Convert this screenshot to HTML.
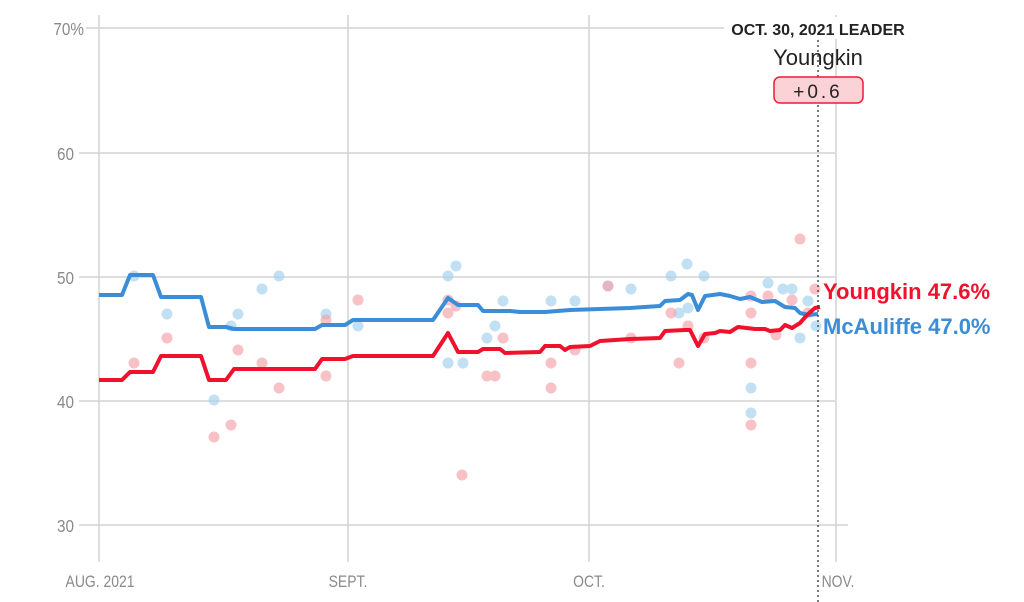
<!DOCTYPE html>
<html><head><meta charset="utf-8"><style>
body{margin:0;background:#fff;}
svg{display:block;font-family:"Liberation Sans",sans-serif;}
.t{fill:#8a8a8a;font-size:18px;}
.a{fill:#8a8a8a;font-size:17px;}
</style></head><body>
<svg width="1024" height="602" viewBox="0 0 1024 602">
<g stroke="#d3d3d3" stroke-width="1.5">
<line x1="86" y1="28" x2="835" y2="28"/><line x1="79" y1="153" x2="835" y2="153"/>
<line x1="79" y1="277" x2="835" y2="277"/><line x1="79" y1="401" x2="835" y2="401"/>
<line x1="79" y1="525" x2="848" y2="525"/>
<line x1="99" y1="15" x2="99" y2="562"/><line x1="348" y1="15" x2="348" y2="562"/>
<line x1="589" y1="15" x2="589" y2="562"/><line x1="836" y1="15" x2="836" y2="562"/>
</g>
<g class="t" text-anchor="end">
<text x="84" y="35" transform="translate(84 0) scale(0.85 1) translate(-84 0)">70%</text>
<text x="74" y="160" transform="translate(74 0) scale(0.85 1) translate(-74 0)">60</text>
<text x="74" y="284" transform="translate(74 0) scale(0.85 1) translate(-74 0)">50</text>
<text x="74" y="408" transform="translate(74 0) scale(0.85 1) translate(-74 0)">40</text>
<text x="74" y="532" transform="translate(74 0) scale(0.85 1) translate(-74 0)">30</text>
</g>
<g class="a" text-anchor="middle">
<text x="100" y="587" transform="translate(100 0) scale(0.82 1) translate(-100 0)">AUG. 2021</text>
<text x="348" y="587" transform="translate(348 0) scale(0.82 1) translate(-348 0)">SEPT.</text>
<text x="589" y="587" transform="translate(589 0) scale(0.82 1) translate(-589 0)">OCT.</text>
<text x="838" y="587" transform="translate(838 0) scale(0.82 1) translate(-838 0)">NOV.</text>
</g>
<g fill="#a9d3ef" opacity="0.7">
<circle cx="134" cy="276" r="5.5"/><circle cx="167" cy="314" r="5.5"/><circle cx="214" cy="400" r="5.5"/><circle cx="231" cy="326" r="5.5"/><circle cx="238" cy="314" r="5.5"/><circle cx="262" cy="289" r="5.5"/><circle cx="279" cy="276" r="5.5"/><circle cx="326" cy="314" r="5.5"/><circle cx="358" cy="326" r="5.5"/><circle cx="448" cy="276" r="5.5"/><circle cx="456" cy="266" r="5.5"/><circle cx="448" cy="363" r="5.5"/><circle cx="463" cy="363" r="5.5"/><circle cx="487" cy="338" r="5.5"/><circle cx="495" cy="326" r="5.5"/><circle cx="503" cy="301" r="5.5"/><circle cx="551" cy="301" r="5.5"/><circle cx="575" cy="301" r="5.5"/><circle cx="608" cy="286" r="5.5"/><circle cx="631" cy="289" r="5.5"/><circle cx="671" cy="276" r="5.5"/><circle cx="687" cy="264" r="5.5"/><circle cx="679" cy="313" r="5.5"/><circle cx="688" cy="308" r="5.5"/><circle cx="704" cy="276" r="5.5"/><circle cx="751" cy="388" r="5.5"/><circle cx="751" cy="413" r="5.5"/><circle cx="768" cy="283" r="5.5"/><circle cx="783" cy="289" r="5.5"/><circle cx="792" cy="289" r="5.5"/><circle cx="800" cy="338" r="5.5"/><circle cx="808" cy="301" r="5.5"/><circle cx="816" cy="326" r="5.5"/>
</g>
<g fill="#f5a0a8" opacity="0.65">
<circle cx="134" cy="363" r="5.5"/><circle cx="167" cy="338" r="5.5"/><circle cx="214" cy="437" r="5.5"/><circle cx="231" cy="425" r="5.5"/><circle cx="238" cy="350" r="5.5"/><circle cx="262" cy="363" r="5.5"/><circle cx="279" cy="388" r="5.5"/><circle cx="326" cy="320" r="5.5"/><circle cx="326" cy="376" r="5.5"/><circle cx="358" cy="300" r="5.5"/><circle cx="448" cy="300" r="5.5"/><circle cx="448" cy="313" r="5.5"/><circle cx="456" cy="306" r="5.5"/><circle cx="462" cy="475" r="5.5"/><circle cx="487" cy="376" r="5.5"/><circle cx="495" cy="376" r="5.5"/><circle cx="503" cy="338" r="5.5"/><circle cx="551" cy="363" r="5.5"/><circle cx="551" cy="388" r="5.5"/><circle cx="575" cy="350" r="5.5"/><circle cx="608" cy="286" r="5.5"/><circle cx="631" cy="338" r="5.5"/><circle cx="671" cy="313" r="5.5"/><circle cx="679" cy="363" r="5.5"/><circle cx="688" cy="326" r="5.5"/><circle cx="704" cy="338" r="5.5"/><circle cx="751" cy="296" r="5.5"/><circle cx="751" cy="313" r="5.5"/><circle cx="751" cy="425" r="5.5"/><circle cx="751" cy="363" r="5.5"/><circle cx="768" cy="296" r="5.5"/><circle cx="776" cy="335" r="5.5"/><circle cx="792" cy="300" r="5.5"/><circle cx="800" cy="239" r="5.5"/><circle cx="808" cy="313" r="5.5"/><circle cx="815" cy="289" r="5.5"/>
</g>
<polyline fill="none" stroke="#3a8dd6" stroke-width="4" stroke-linejoin="round" points="99,295 122,295 130,275 153,275 161,297 201,297 209,327 226,327 234,329 315,329 322,325 345,325 353,320 433,320 448,298 458,305 478,305 483,311 510,311 520,312 545,312 570,310 600,309 630,308 660,306 665,301 680,300 688,294 692,295 698,310 705,296 720,294 730,296 740,299 750,297 762,302 775,301 785,307 795,308 800,313 808,315 818,314"/>
<polyline fill="none" stroke="#f0112c" stroke-width="4" stroke-linejoin="round" points="99,380 122,380 130,372 153,372 161,356 201,356 209,380 226,380 234,369 315,369 322,359 345,359 353,356 433,356 448,333 458,352 478,352 483,349 500,349 505,353 540,352 545,346 560,346 565,350 570,347 590,346 600,341 630,339 660,338 665,331 685,330 690,330 698,346 705,334 715,333 720,331 730,332 738,327 755,329 765,329 770,331 780,330 785,325 792,328 800,323 808,314 815,308 820,307"/>
<line x1="818" y1="40" x2="818" y2="602" stroke="#333" stroke-width="1.3" stroke-dasharray="2,3"/>
<rect x="724" y="17" width="190" height="22" fill="#fff"/>
<text x="818" y="35" text-anchor="middle" font-size="16" font-weight="bold" fill="#222">OCT. 30, 2021 LEADER</text>
<text x="818" y="65" text-anchor="middle" font-size="22" fill="#222">Youngkin</text>
<rect x="774" y="77" width="89" height="26" rx="6" fill="#fbd3d6" stroke="#ee1a36" stroke-width="1.5"/>
<text x="818" y="98" text-anchor="middle" font-size="19" fill="#222" letter-spacing="3">+0.6</text>
<text x="823" y="299" font-size="22" font-weight="bold" fill="#f0112c">Youngkin 47.6%</text>
<text x="823" y="334" font-size="22" font-weight="bold" fill="#3a8dd6">McAuliffe 47.0%</text>
</svg>
</body></html>
